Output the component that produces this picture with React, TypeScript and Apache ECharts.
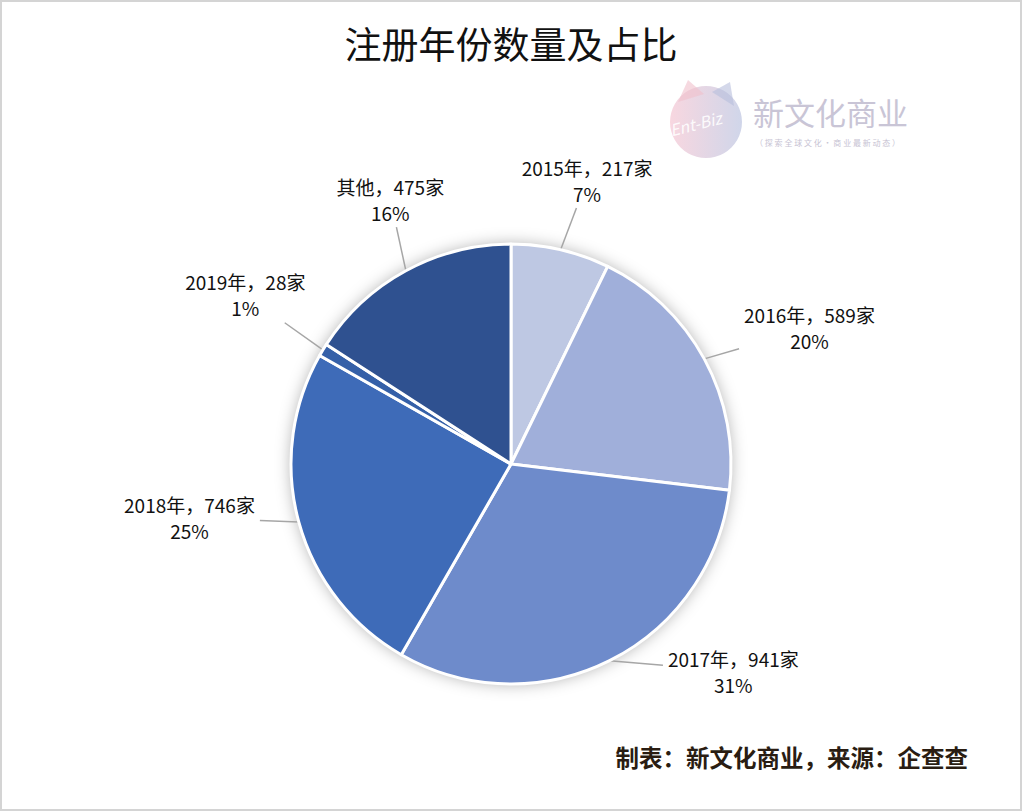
import React, { useEffect, useRef } from "react";
import * as echarts from "echarts";

const categories = ["2015年", "2016年", "2017年", "2018年", "2019年", "其他"];
const counts = [217, 589, 941, 746, 28, 475];
const colors = ["#BEC8E3", "#A0AFDA", "#6E8BCB", "#3E6BB8", "#3560A8", "#2F5190"];
const titleText = "注册年份数量及占比";
const footerText = "制表：新文化商业，来源：企查查";
const logoName = "新文化商业";
const logoSub = "（ 探 索 全 球 文 化 · 商 业 最 新 动 态 ）";

// label placement (layout only): angle from 12 o'clock (deg, clockwise) and distance of label centre
const labelAngles = [15, 65.5, 133, 260.5, 302.5, 335.5];
const labelRadii = [294, 328, 304, 326, 315, 291];

const FONT = '"Noto Sans CJK SC", "Microsoft YaHei", sans-serif';
const CX = 511;
const CY = 464;
const R = 220;

export default function App() {
  const ref = useRef<HTMLDivElement>(null);
  useEffect(() => {
    document.body.style.margin = "0";
    if (!ref.current) return;
    const chart = echarts.init(ref.current, undefined, { renderer: "svg" });
    const data = categories.map((c, i) => ({
      name: c,
      value: counts[i],
      itemStyle: { color: colors[i] },
    }));
    const option: any = {
      animation: false,
      backgroundColor: "#ffffff",
      title: {
        text: titleText,
        left: "center",
        top: 19,
        textStyle: { fontFamily: FONT, fontSize: 37, fontWeight: "normal", color: "#111" },
      },
      graphic: [
        {
          type: "rect",
          shape: { x: 1, y: 1, width: 1020, height: 809 },
          style: { fill: "none", stroke: "#d4d4d4", lineWidth: 2 },
          silent: true,
        },
        {
          type: "group",
          left: 668,
          top: 80,
          silent: true,
          children: [
            {
              type: "circle",
              shape: { cx: 40, cy: 42, r: 36 },
              style: {
                opacity: 0.55,
                fill: new echarts.graphic.LinearGradient(0, 0, 1, 0, [
                  { offset: 0, color: "#f2b6c6" },
                  { offset: 1, color: "#a9b4d8" },
                ]),
              },
            },
            {
              type: "polygon",
              shape: { points: [[12, 22], [22, 0], [38, 14]] },
              style: { fill: "#f0c0cc", opacity: 0.6 },
            },
            {
              type: "polygon",
              shape: { points: [[46, 12], [64, 2], [68, 26]] },
              style: { fill: "#b8bedc", opacity: 0.6 },
            },
            {
              type: "text",
              x: 2,
              y: 42,
              rotation: 0.25,
              style: {
                text: "Ent-Biz",
                fontFamily: FONT,
                fontSize: 16,
                fontStyle: "italic",
                fill: "#ffffff",
                opacity: 0.9,
              },
            },
            {
              type: "text",
              x: 87,
              y: 16,
              style: {
                text: logoName,
                fontFamily: FONT,
                fontSize: 31,
                fill: "#c9c5d6",
              },
            },
            {
              type: "text",
              x: 89,
              y: 58,
              style: {
                text: logoSub,
                fontFamily: FONT,
                fontSize: 8,
                fill: "#c7c3d3",
              },
            },
          ],
        },
        {
          type: "text",
          right: 54,
          top: 745,
          style: {
            text: footerText,
            fontFamily: FONT,
            fontSize: 23.5,
            fontWeight: "bold",
            fill: "#2a1d12",
          },
        },
      ],
      series: [
        {
          type: "pie",
          silent: true,
          center: [CX, CY],
          radius: R,
          label: { show: false },
          labelLine: { show: false },
          itemStyle: {
            color: "#ffffff",
            shadowBlur: 16,
            shadowColor: "rgba(0,0,0,0.32)",
          },
          data: [{ value: 1, name: "bg" }],
          z: 1,
        },
        {
          type: "pie",
          center: [CX, CY],
          radius: R,
          startAngle: 90,
          clockwise: true,
          percentPrecision: 0,
          z: 2,
          itemStyle: { borderColor: "#ffffff", borderWidth: 3 },
          label: {
            show: true,
            position: "outside",
            fontFamily: FONT,
            fontSize: 19,
            color: "#111",
            lineHeight: 26,
            formatter: (p: any) => `${p.name}，${p.value}家\n${p.percent}%`,
          },
          labelLine: {
            show: true,
            length: 40,
            length2: 0,
            lineStyle: { color: "#a6a6a6", width: 1.5 },
          },
          labelLayout: (params: any) => {
            const i = params.dataIndex;
            const pts = params.labelLinePoints;
            if (!pts) return {};
            const a = (labelAngles[i] * Math.PI) / 180;
            const cx = CX + labelRadii[i] * Math.sin(a);
            const cy = CY - labelRadii[i] * Math.cos(a);
            const p0 = pts[0];
            const hw = params.labelRect.width / 2 + 5;
            const hh = params.labelRect.height / 2 + 2;
            const dx = p0[0] - cx;
            const dy = p0[1] - cy;
            const tx = Math.abs(dx) > 1e-6 ? hw / Math.abs(dx) : Infinity;
            const ty = Math.abs(dy) > 1e-6 ? hh / Math.abs(dy) : Infinity;
            const t = Math.min(tx, ty);
            const end = [cx + dx * t, cy + dy * t];
            return {
              x: cx,
              y: cy,
              align: "center",
              verticalAlign: "middle",
              labelLinePoints: [p0, end, end],
            };
          },
          data,
        },
      ],
    };
    chart.setOption(option);
    return () => chart.dispose();
  }, []);
  return <div ref={ref} style={{ width: 1022, height: 811 }} />;
}
